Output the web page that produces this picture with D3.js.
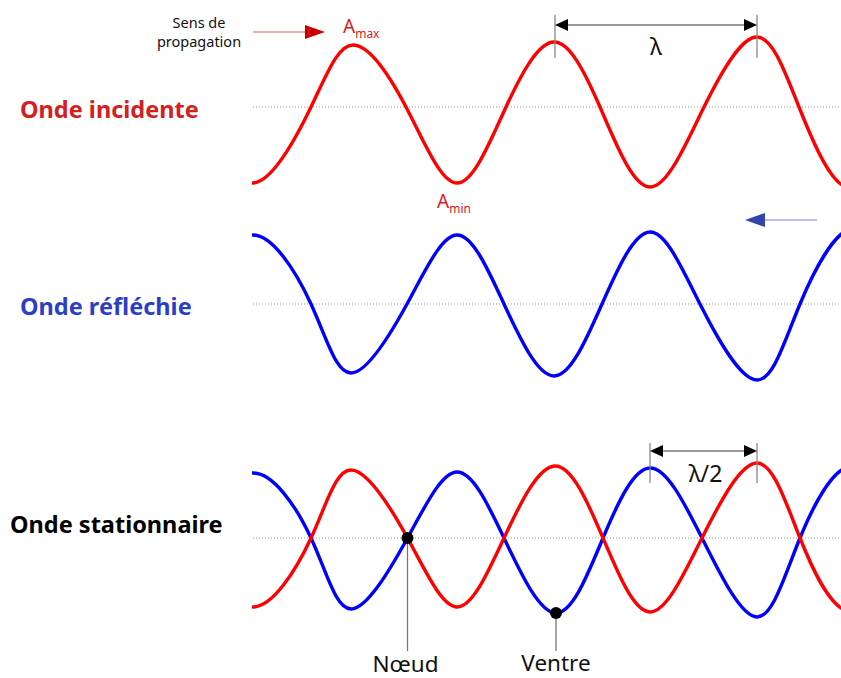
<!DOCTYPE html>
<html><head><meta charset="utf-8">
<script src="https://cdn.jsdelivr.net/npm/d3@7"></script>
<style>body{margin:0;background:#fff}svg{display:block}</style>
</head><body>
<script>
// ---- data (x: distance along the rope, y: displacement) ----
const incidentX = [-50, 0, 58, 100, 153, 204, 253, 301, 347, 397, 451, 504, 546, 595, 640];
const incidentY = [0, -76, 0, 62, 0, -76, 0, 65, 0, -80, 0, 70, 0, -80, 0];
const reflectedX = [-50, 0, 58, 98, 154, 204, 251, 301, 349, 397, 447, 504, 547, 602, 650];
const reflectedY = [0, 69, 0, -69, 0, 69, 0, -72, 0, 72, 0, -76, 0, 76, 0];
const standBlueX = [-50, 0, 58, 98, 154.5, 204, 251, 303, 350, 397, 449, 504, 547, 600, 650];
const standBlueY = [0, 65, 0, -71, 0, 66, 0, -75, 0, 70, 0, -79, 0, 72, 0];
const standRedX = [-50, 0, 58, 98, 154.5, 204, 251, 302, 350, 397, 449, 504, 547, 597, 650];
const standRedY = [0, -69, 0, 68, 0, -69, 0, 72, 0, -74, 0, 75, 0, -73, 0];
const waveLabels = ["Onde incidente", "Onde réfléchie", "Onde stationnaire"];
const propagationLines = ["Sens de", "propagation"];
const lambdaMarks = [302, 504];      // x of the two incident peaks bracketed by λ
const halfLambdaMarks = [397, 504];  // blue peak / red peak in standing wave
const nodeX = 154.5, antinodeX = 303, antinodeY = -75;

const W = 841, H = 678;
const svg = d3.select("body").append("svg").attr("width", W).attr("height", H)
  .style("font-family", "'Noto Sans', 'Open Sans', sans-serif");

const x = d3.scaleLinear().domain([0, 588]).range([253, 841]);
const yInc = d3.scaleLinear().domain([-100, 100]).range([207, 7]);
const yRef = d3.scaleLinear().domain([-100, 100]).range([404, 204]);
const ySta = d3.scaleLinear().domain([-100, 100]).range([638, 438]);

svg.append("defs").append("clipPath").attr("id", "clip")
  .append("rect").attr("x", 252).attr("y", 0).attr("width", W - 252).attr("height", H);

// centre lines
[yInc, yRef, ySta].forEach(ys => {
  svg.append("line").attr("x1", x(0)).attr("x2", W).attr("y1", ys(0)).attr("y2", ys(0))
    .attr("stroke", "#999").attr("stroke-width", 1).attr("stroke-dasharray", "1,2");
});

function wave(xs, ys, yScale, color) {
  const pts = xs.map((v, i) => [v, ys[i]]);
  const line = d3.line().x(d => x(d[0])).y(d => yScale(d[1])).curve(d3.curveNatural);
  svg.append("path").attr("d", line(pts)).attr("clip-path", "url(#clip)")
    .attr("fill", "none").attr("stroke", color).attr("stroke-width", 3.4)
    .attr("stroke-linejoin", "round");
}
wave(incidentX, incidentY, yInc, "#ff0000");
wave(reflectedX, reflectedY, yRef, "#0000ff");
wave(standBlueX, standBlueY, ySta, "#0000ff");
wave(standRedX, standRedY, ySta, "#ff0000");

// labels
const labelCol = ["#d42020", "#2b3fc4", "#000"];
const labelY = [yInc(0) + 11, yRef(0) + 11, ySta(0) - 5];
const labelX = [20, 20, 10];
waveLabels.forEach((t, i) => {
  svg.append("text").text(t).attr("x", labelX[i]).attr("y", labelY[i])
    .attr("fill", labelCol[i]).attr("font-weight", "bold").attr("font-size", 23.5);
});

// sens de propagation
propagationLines.forEach((t, i) => {
  svg.append("text").text(t).attr("x", 199).attr("y", 27.5 + i * 19.5)
    .attr("font-size", 14.5).attr("fill", "#111").attr("text-anchor", "middle");
});
svg.append("line").attr("x1", 253).attr("x2", 308).attr("y1", 32).attr("y2", 32)
  .attr("stroke", "#e05a5a").attr("stroke-width", 1.2);
svg.append("path").attr("d", "M305,25 L325,32 L305,39 Z").attr("fill", "#cc0000");

// reflected arrow
svg.append("line").attr("x1", 762).attr("x2", 817).attr("y1", 220).attr("y2", 220)
  .attr("stroke", "#7a84c8").attr("stroke-width", 1.2);
svg.append("path").attr("d", "M765,213 L745,220 L765,227 Z").attr("fill", "#3344aa");

// A max / A min
function amp(tx, ty, sub) {
  const t = svg.append("text").attr("x", tx).attr("y", ty).attr("fill", "#d42020").attr("font-size", 19);
  t.append("tspan").text("A");
  t.append("tspan").attr("font-size", 12).attr("dy", 5).text(sub);
}
amp(343, 33, "max");
amp(437, 208, "min");

// dimension arrows
function dim(xa, xb, yLine, yTop, yBot, label, lx, ly) {
  [xa, xb].forEach(v => svg.append("line").attr("x1", v).attr("x2", v).attr("y1", yTop).attr("y2", yBot)
    .attr("stroke", "#888").attr("stroke-width", 1.3));
  svg.append("line").attr("x1", xa + 10).attr("x2", xb - 10).attr("y1", yLine).attr("y2", yLine)
    .attr("stroke", "#333").attr("stroke-width", 1.2);
  svg.append("path").attr("d", `M${xa},${yLine} L${xa + 13},${yLine - 6} L${xa + 13},${yLine + 6} Z`).attr("fill", "#000");
  svg.append("path").attr("d", `M${xb},${yLine} L${xb - 13},${yLine - 6} L${xb - 13},${yLine + 6} Z`).attr("fill", "#000");
  svg.append("text").text(label).attr("x", lx).attr("y", ly).attr("text-anchor", "middle")
    .attr("font-size", 23).attr("fill", "#111");
}
dim(x(lambdaMarks[0]), x(lambdaMarks[1]), 25, 15, 58, "λ", (x(lambdaMarks[0]) + x(lambdaMarks[1])) / 2, 55);
dim(x(halfLambdaMarks[0]), x(halfLambdaMarks[1]), 451, 443, 483, "λ/2", (x(halfLambdaMarks[0]) + x(halfLambdaMarks[1])) / 2 + 2, 482);

// node / antinode
function marker(px, py, label, tx, ty) {
  svg.append("line").attr("x1", px).attr("x2", px).attr("y1", py).attr("y2", 651)
    .attr("stroke", "#777").attr("stroke-width", 1.3);
  svg.append("circle").attr("cx", px).attr("cy", py).attr("r", 6).attr("fill", "#000");
  svg.append("text").text(label).attr("x", tx).attr("y", ty).attr("text-anchor", "middle")
    .attr("font-size", 22.5).attr("fill", "#111");
}
marker(x(nodeX), ySta(0), "Nœud", x(nodeX) - 2, 672);
marker(x(antinodeX), ySta(antinodeY), "Ventre", x(antinodeX), 671);
</script>
</body></html>
